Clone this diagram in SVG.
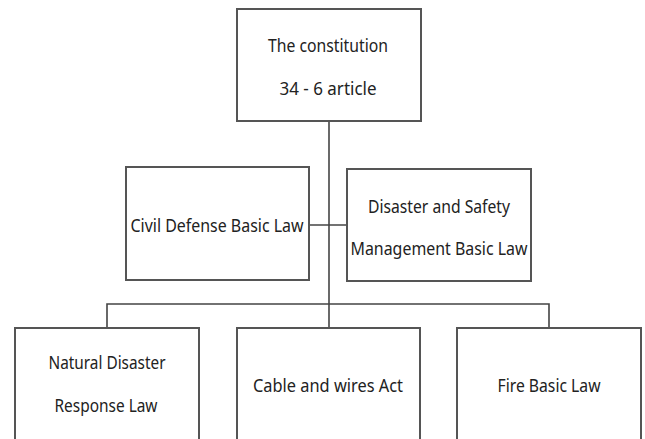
<svg xmlns="http://www.w3.org/2000/svg" width="645" height="439" viewBox="0 0 645 439">
<style>
.box{fill:#fff;stroke:#555;stroke-width:2}
.t{font-family:"Noto Sans","Liberation Sans",sans-serif;font-size:18px;fill:#222;text-anchor:middle}
.c{fill:none;stroke:#444;stroke-width:1.6}
</style>
<rect width="645" height="439" fill="#fff"/>
<g id="connectors">
<line class="c" x1="329" y1="121" x2="329" y2="328"/>
<line class="c" x1="309" y1="225" x2="347" y2="225"/>
<polyline class="c" points="107,328 107,304 549,304 549,328"/>
</g>
<g id="constitution">
<rect class="box" x="237" y="9" width="184" height="112"/>
<text class="t" x="328" y="52" textLength="120" lengthAdjust="spacingAndGlyphs">The constitution</text>
<text class="t" x="328" y="95" textLength="97" lengthAdjust="spacingAndGlyphs">34 - 6 article</text>
</g>
<g id="civil">
<rect class="box" x="126" y="167" width="183" height="113"/>
<text class="t" x="217" y="232" textLength="173" lengthAdjust="spacingAndGlyphs">Civil Defense Basic Law</text>
</g>
<g id="disaster">
<rect class="box" x="347" y="169" width="184" height="112"/>
<text class="t" x="439" y="213" textLength="142" lengthAdjust="spacingAndGlyphs">Disaster and Safety</text>
<text class="t" x="439" y="255" textLength="177" lengthAdjust="spacingAndGlyphs">Management Basic Law</text>
</g>
<g id="natural">
<rect class="box" x="15" y="328" width="184" height="130"/>
<text class="t" x="107" y="369" textLength="117" lengthAdjust="spacingAndGlyphs">Natural Disaster</text>
<text class="t" x="106" y="412" textLength="103" lengthAdjust="spacingAndGlyphs">Response Law</text>
</g>
<g id="cable">
<rect class="box" x="237" y="328" width="183" height="130"/>
<text class="t" x="328" y="392" textLength="150" lengthAdjust="spacingAndGlyphs">Cable and wires Act</text>
</g>
<g id="fire">
<rect class="box" x="457" y="328" width="184" height="130"/>
<text class="t" x="549" y="392" textLength="103" lengthAdjust="spacingAndGlyphs">Fire Basic Law</text>
</g>
</svg>
